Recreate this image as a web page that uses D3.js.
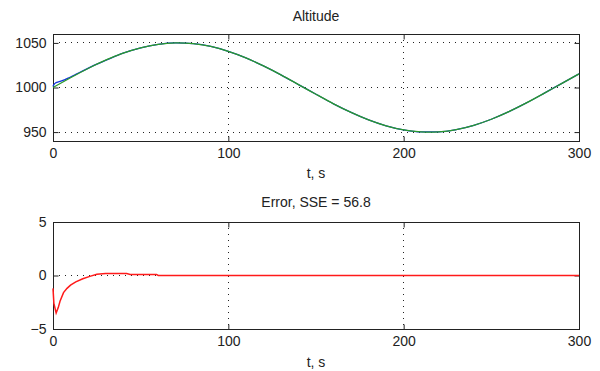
<!DOCTYPE html>
<html>
<head>
<meta charset="utf-8">
<script src="https://cdn.jsdelivr.net/npm/d3@7"></script>
<style>
  body { margin: 0; background: #fff; }
  text { font-family: "Liberation Sans", Arial, sans-serif; fill: #222; }
  .grid line { stroke: #222; stroke-dasharray: 1,5; }
</style>
</head>
<body>
<svg width="600" height="371"></svg>
<script>
// measured altitude (green), sampled every 10 s
var tAlt = [0,10,20,30,40,50,60,70,80,90,100,110,120,130,140,150,160,170,180,190,200,210,220,230,240,250,260,270,280,290,300];
var altMeas = [1000,1010.9,1021.3,1030.6,1038.5,1044.5,1048.4,1050,1049.1,1046,1040.5,1033.2,1024.2,1014.2,1003.3,992.4,981.7,972.1,963.7,957.1,952.5,950.2,950.3,952.8,957.6,964.4,972.9,982.7,993.4,1004.4,1015.3];

// model estimate (blue), only differs at the start
var tEst = [0,0.5,1.8,3,4,6,8,10,13,17,21,25,30,40,50,60,70,80,90,100,110,120,130,140,150,160,170,180,190,200,210,220,230,240,250,260,270,280,290,300];
var altEst = [1001.2,1003.2,1005.5,1006.3,1006.8,1008.2,1010,1011.8,1014.7,1018.7,1022.6,1026.3,1030.4,1038.5,1044.5,1048.4,1050,1049.1,1046,1040.5,1033.2,1024.2,1014.2,1003.3,992.4,981.7,972.1,963.7,957.1,952.5,950.2,950.3,952.8,957.6,964.4,972.9,982.7,993.4,1004.4,1015.3];

// error
var tErr = [0,0.5,1.8,3,4,6,8,10,13,17,21,25,30,42,44,59,60,300];
var err = [-1.2,-2.6,-3.5,-3.0,-2.4,-1.6,-1.2,-0.9,-0.6,-0.3,-0.08,0.12,0.18,0.18,0.1,0.1,0,0];

var xTicks = [0,100,200,300];
var yTicksTop = [950,1000,1050];
var yTicksBot = [-5,0,5];

var svg = d3.select("svg");

var x = d3.scaleLinear().domain([0,300]).range([53,579]);

function panel(y, yticks, gridY, title, titleY, labelY) {
  var g = svg.append("g");
  var y0 = y.range()[0], y1 = y.range()[1];

  // grid
  var grid = g.append("g").attr("class", "grid");
  grid.selectAll(".gx").data([100,200]).enter().append("line")
      .attr("x1", function(d) { return Math.floor(x(d)) + 0.5; })
      .attr("x2", function(d) { return Math.floor(x(d)) + 0.5; })
      .attr("y1", y1).attr("y2", y0);
  grid.selectAll(".gy").data(gridY).enter().append("line")
      .attr("y1", function(d) { return Math.floor(y(d)) + 0.5; })
      .attr("y2", function(d) { return Math.floor(y(d)) + 0.5; })
      .attr("x1", 53).attr("x2", 579);

  // axes, ticks pointing inward
  var ax = [
    [d3.axisLeft(y).tickValues(yticks).tickFormat(d3.format("d")).tickPadding(7), "translate(53.5,0)"],
    [d3.axisRight(y).tickValues(yticks).tickFormat(""), "translate(579.5,0)"],
    [d3.axisBottom(x).tickValues(xTicks).tickFormat(d3.format("d")).tickPadding(7), "translate(0," + (y0 + 0.5) + ")"],
    [d3.axisTop(x).tickValues(xTicks).tickFormat(""), "translate(0," + (y1 + 0.5) + ")"]
  ];
  ax.forEach(function(a) {
    var ag = g.append("g").attr("transform", a[1])
        .call(a[0].tickSizeInner(-5).tickSizeOuter(0));
    ag.select(".domain").remove();
    ag.selectAll("line").attr("stroke", "#222");
    ag.selectAll("text").style("font-size", "14px").attr("fill", "#222")
      .style("font-family", "'Liberation Sans', Arial, sans-serif");
  });

  g.append("rect")
      .attr("x", 53.5).attr("y", y1 + 0.5)
      .attr("width", 526).attr("height", y0 - y1)
      .attr("fill", "none").attr("stroke", "#222");

  g.append("text").attr("x", 316).attr("y", titleY)
      .attr("text-anchor", "middle").style("font-size", "14px").text(title);
  g.append("text").attr("x", 316).attr("y", labelY)
      .attr("text-anchor", "middle").style("font-size", "14px").text("t, s");
  return g;
}

var yTop = d3.scaleLinear().domain([940,1060]).range([141,34]);
var yBot = d3.scaleLinear().domain([-5,5]).range([329,222]);

var gTop = panel(yTop, yTicksTop, yTicksTop, "Altitude", 21, 178);
var gBot = panel(yBot, yTicksBot, [0], "Error, SSE = 56.8", 207, 367);

var lineEst = d3.line().curve(d3.curveMonotoneX)
    .x(function(d, i) { return x(tEst[i]); })
    .y(function(d) { return yTop(d); });
var lineMeas = d3.line().curve(d3.curveNatural)
    .x(function(d, i) { return x(tAlt[i]); })
    .y(function(d) { return yTop(d); });
var lineErr = d3.line()
    .x(function(d, i) { return x(tErr[i]); })
    .y(function(d) { return yBot(d); });

gTop.append("path").datum(altEst).attr("d", lineEst)
    .attr("fill", "none").attr("stroke", "#1030e0").attr("stroke-width", 1.3);
gTop.append("path").datum(altMeas).attr("d", lineMeas)
    .attr("fill", "none").attr("stroke", "#2a9a2a").attr("stroke-width", 1.3);
gBot.append("path").datum(err).attr("d", lineErr)
    .attr("fill", "none").attr("stroke", "#ff1a1a").attr("stroke-width", 1.5);
</script>
</body>
</html>
